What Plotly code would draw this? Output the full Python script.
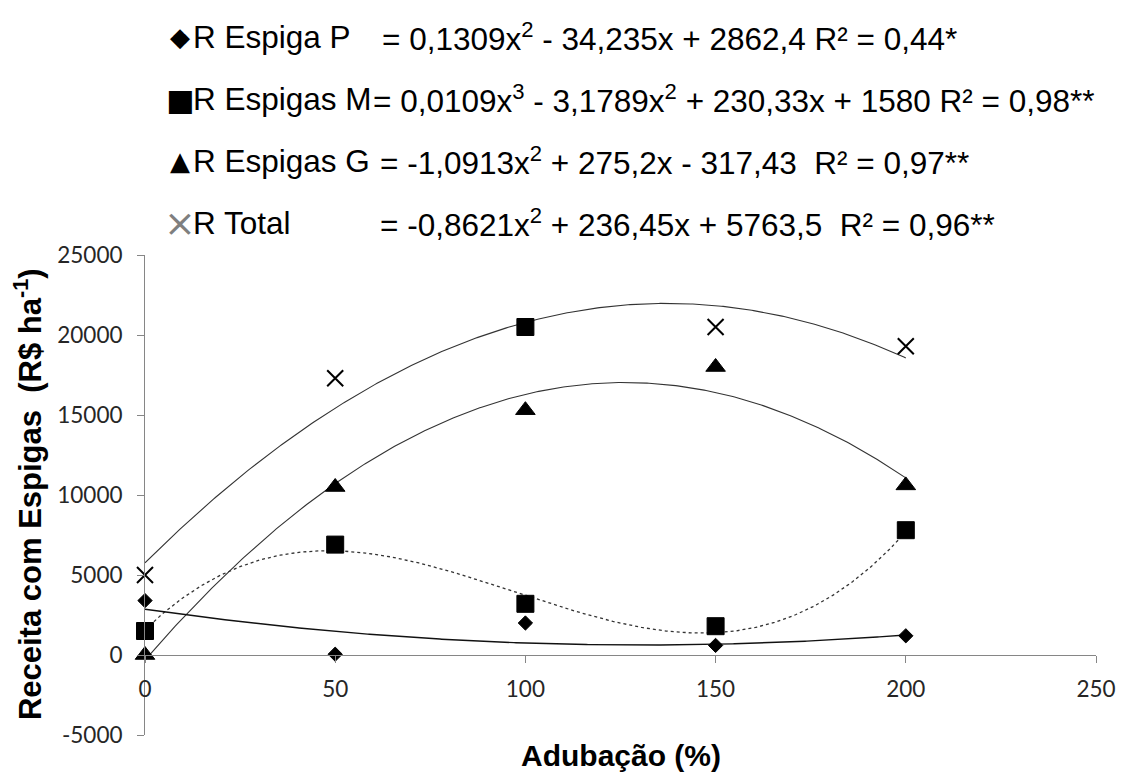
import numpy as np
import plotly.graph_objects as go

# ---------------- data ----------------
x_levels = [0, 50, 100, 150, 200]
r_espiga_p = [3400, 50, 2000, 600, 1200]
r_espigas_m = [1500, 6900, 3200, 1800, 7800]
r_espigas_g = [0, 10500, 15300, 18000, 10600]
r_total = [5000, 17300, 20500, 20500, 19300]
total_symbols = ["x-thin-open", "x-thin-open", "square", "x-thin-open", "x-thin-open"]

# trend-line coefficients (as printed in the chart, highest power first)
coef_p = [0.1309, -34.235, 2862.4]
coef_m = [0.0109, -3.1789, 230.33, 1580]
coef_g = [-1.0913, 275.2, -317.43]
coef_t = [-0.8621, 236.45, 5763.5]

x_ticks = [0, 50, 100, 150, 200, 250]
y_ticks = [-5000, 0, 5000, 10000, 15000, 20000, 25000]
y_tick_text = ["-5000", "0", "5000", "10000", "15000", "20000", "25000"]

legend_glyphs = ["◆", "■", "▲", "×"]
legend_names = ["R Espiga P", "R Espigas M", "R Espigas G", "R Total"]
legend_eqs = [
    "= 0,1309x<sup>2</sup> - 34,235x + 2862,4 R² = 0,44*",
    "= 0,0109x<sup>3</sup> - 3,1789x<sup>2</sup> + 230,33x + 1580 R² = 0,98**",
    "= -1,0913x<sup>2</sup> + 275,2x - 317,43  R² = 0,97**",
    "= -0,8621x<sup>2</sup> + 236,45x + 5763,5  R² = 0,96**",
]

# ---------------- layout geometry ----------------
# page is 1128x773; the html body adds an 8px margin around the figure
OFF = 8
W, H = 1128 - OFF, 773 - OFF
PLOT_L, PLOT_R, PLOT_T, PLOT_B = 145, 1105, 255, 735   # page pixels of the plot area
L, T = PLOT_L - OFF, PLOT_T - OFF
R, B = W - (PLOT_R - OFF), H - (PLOT_B - OFF)
PW, PH = PLOT_R - PLOT_L, PLOT_B - PLOT_T


def px(xp):
    return (xp - PLOT_L) / PW


def py(yp):
    return (PLOT_B - yp) / PH


xs = np.linspace(0, 200, 401)
fig = go.Figure()

line_col = "#333333"
fig.add_trace(go.Scatter(x=xs, y=np.polyval(coef_t, xs), mode="lines",
                         line=dict(color=line_col, width=1.1), hoverinfo="skip"))
fig.add_trace(go.Scatter(x=xs, y=np.polyval(coef_g, xs), mode="lines",
                         line=dict(color=line_col, width=1.1), hoverinfo="skip"))
fig.add_trace(go.Scatter(x=xs, y=np.polyval(coef_m, xs), mode="lines",
                         line=dict(color=line_col, width=1.3, dash="dot"), hoverinfo="skip"))
fig.add_trace(go.Scatter(x=xs, y=np.polyval(coef_p, xs), mode="lines",
                         line=dict(color="#111111", width=1.4), hoverinfo="skip"))

fig.add_trace(go.Scatter(x=x_levels, y=r_espiga_p, mode="markers", cliponaxis=False,
                         marker=dict(symbol="diamond", size=11, color="black",
                                     line=dict(width=1, color="black"))))
fig.add_trace(go.Scatter(x=x_levels, y=r_espigas_m, mode="markers", cliponaxis=False,
                         marker=dict(symbol="square", size=17, color="black",
                                     line=dict(width=1, color="black"))))
fig.add_trace(go.Scatter(x=x_levels, y=r_espigas_g, mode="markers", cliponaxis=False,
                         marker=dict(symbol="triangle-up", size=17, color="black",
                                     line=dict(width=1, color="black"))))

# Total: x markers, except one point drawn as a filled square
tx_x = [x for x, s in zip(x_levels, total_symbols) if s != "square"]
tx_y = [y for y, s in zip(r_total, total_symbols) if s != "square"]
sq_x = [x for x, s in zip(x_levels, total_symbols) if s == "square"]
sq_y = [y for y, s in zip(r_total, total_symbols) if s == "square"]
fig.add_trace(go.Scatter(x=tx_x, y=tx_y, mode="markers", cliponaxis=False,
                         marker=dict(symbol="x-thin-open", size=16, color="black",
                                     line=dict(width=2, color="black"))))
fig.add_trace(go.Scatter(x=sq_x, y=sq_y, mode="markers", cliponaxis=False,
                         marker=dict(symbol="square", size=17, color="black",
                                     line=dict(width=1, color="black"))))

axis_col = "#868686"
tick_font = dict(family="Lato", size=22.5, color="#262626")
fig.update_xaxes(range=[0, 250], tickvals=x_ticks, ticktext=[str(v) for v in x_ticks],
                 showline=True, linecolor=axis_col,
                 linewidth=1, ticks="outside", ticklen=7, tickcolor=axis_col,
                 showgrid=False, zeroline=False, anchor="free",
                 position=5000 / 30000, tickfont=tick_font, ticklabelstandoff=7)
fig.update_yaxes(range=[-5000, 25000], tickvals=y_ticks, ticktext=y_tick_text,
                 showline=True, linecolor=axis_col,
                 linewidth=1, ticks="outside", ticklen=7, tickcolor=axis_col,
                 showgrid=False, zeroline=False, tickfont=tick_font, ticklabelstandoff=10)

annotations = []
annotations.append(dict(text="<b>Receita com Espigas\u00a0\u00a0(R$ ha<sup>-1</sup>)</b>",
                        xref="paper", yref="paper", x=px(27), y=py(494), textangle=-90,
                        showarrow=False, xanchor="center", yanchor="middle",
                        font=dict(family="Liberation Sans", size=31, color="black")))
annotations.append(dict(text="<b>Adubação (%)</b>", xref="paper", yref="paper",
                        x=px(625), y=py(755), showarrow=False, xanchor="center",
                        yanchor="middle",
                        font=dict(family="Liberation Sans", size=30, color="black")))

row_y = [37, 99, 161, 223]
eq_x = [382, 373, 380, 380]
glyph_cols = ["black", "black", "black", "#7f7f7f"]
glyph_sizes = [26, 30, 26, 38]
for i in range(4):
    annotations.append(dict(text=legend_glyphs[i], xref="paper", yref="paper",
                            x=px(180), y=py(row_y[i]), showarrow=False,
                            xanchor="center", yanchor="middle",
                            font=dict(family="DejaVu Sans", size=glyph_sizes[i],
                                      color=glyph_cols[i])))
    annotations.append(dict(text=legend_names[i], xref="paper", yref="paper",
                            x=px(191), y=py(row_y[i]), showarrow=False,
                            xanchor="left", yanchor="middle",
                            font=dict(family="Liberation Sans", size=31.5, color="black")))
    annotations.append(dict(text=legend_eqs[i], xref="paper", yref="paper",
                            x=px(eq_x[i]), y=py(row_y[i]), showarrow=False,
                            xanchor="left", yanchor="middle",
                            font=dict(family="Liberation Sans", size=31.5, color="black")))

fig.update_layout(width=W, height=H, margin=dict(l=L, r=R, t=T, b=B),
                  paper_bgcolor="white", plot_bgcolor="white", showlegend=False,
                  annotations=annotations)

fig.write_html("out.html")
